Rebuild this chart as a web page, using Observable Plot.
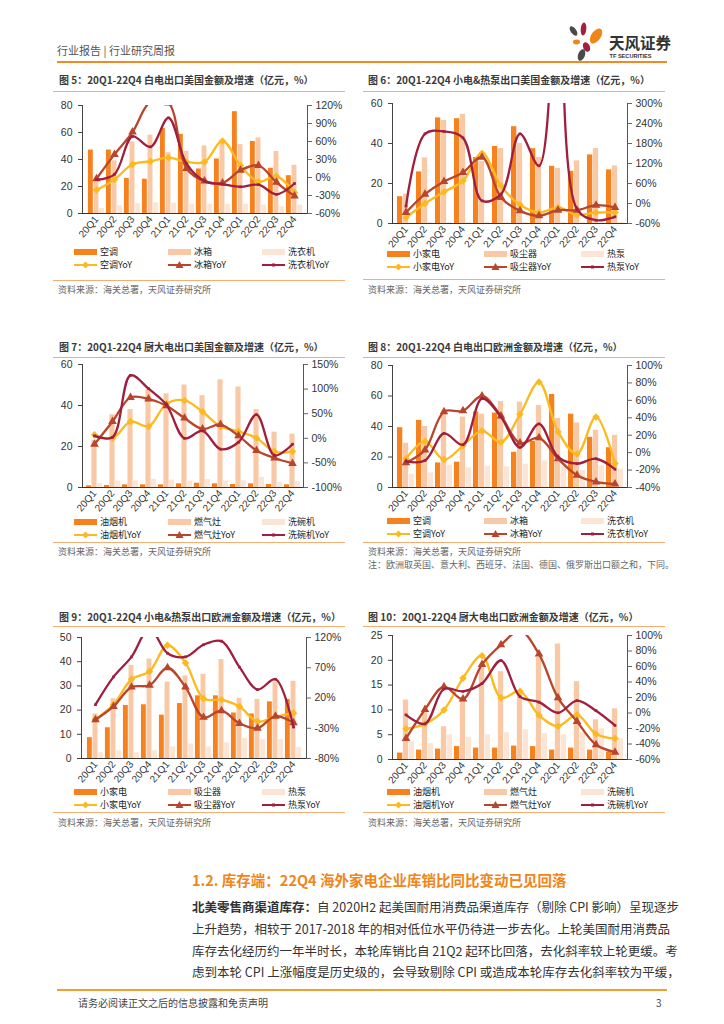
<!DOCTYPE html>
<html><head><meta charset="utf-8">
<script src="https://cdn.jsdelivr.net/npm/d3@7"></script>
<script src="https://cdn.jsdelivr.net/npm/@observablehq/plot@0.6"></script>
<style>
body{margin:0;background:#fff;}
#page{position:relative;width:724px;height:1024px;overflow:hidden;font-family:"Noto Sans CJK SC","Noto Sans",sans-serif;color:#333;}
.abs{position:absolute;white-space:nowrap;}
.title{font-size:10px;font-weight:bold;color:#3a3a3a;line-height:12px;}
.hr{position:absolute;height:1px;background:#F4AE74;}
.src{font-size:9px;color:#666;line-height:11px;}
.leg{font-size:9px;color:#222;line-height:10px;height:10px;display:flex;align-items:center;}
.plotbox{position:absolute;}
.body{position:absolute;left:192px;width:474px;font-size:12.5px;line-height:16px;color:#333;text-align:justify;text-align-last:justify;white-space:nowrap;}
</style></head>
<body><div id="page"></div>
<script>
const quarters = ["20Q1","20Q2","20Q3","20Q4","21Q1","21Q2","21Q3","21Q4","22Q1","22Q2","22Q3","22Q4"];

// Fig 5: white goods exports to US (亿元, %)
const us_white_ac = [47,47,26,25.4,63,58.6,33,40.4,75.4,53.4,33.5,28];
const us_white_fridge = [25,39,53,58,45,46,50,52,51,56,46,35.7];
const us_white_washer = [3.7,5.7,7.4,7.9,7.6,6.9,6.9,6.9,6.9,6.2,4.9,6.2];
const us_white_ac_yoy = [-21,-3.5,22,27,33,26,26,61,20,-7,2,-25];
const us_white_fridge_yoy = [-2,38.5,75.7,126,124,15,-6,-9,12,20,-8,-31];
const us_white_washer_yoy = [-3.5,5.4,68.5,51,99.5,23,-6,-11,-15.6,-12,-28,-10];

// Fig 6: small appliances & heat pumps to US
const us_small_appl = [13.4,25.8,52.8,52.4,33,38.5,48.4,37.4,28.6,26.1,34.3,26.8];
const us_small_vac = [14.7,32.8,51.6,54.6,31,37.5,40,33,27.6,31.3,37.5,28.8];
const us_small_hp = [0.3,0.4,0.5,0.5,0.6,0.6,0.6,0.6,0.5,0.5,0.5,0.5];
const us_small_appl_yoy = [-42,0,35,68,151,53,-4,-27,-12,-34,-27,-27];
const us_small_vac_yoy = [-27,28,66,93,139,18,-22,-37,-20,-20,-5,-12];
const us_small_hp_yoy = [-8,209,216,197,8,28,209,113,700,-17,-50,-40];

// Fig 7: kitchen appliances to US
const us_kitchen_hood = [0.8,1.0,1.3,1.3,1.3,1.8,2.1,1.8,1.5,1.8,1.5,1.3];
const us_kitchen_stove = [23,35.5,38,48,45.7,50,44.8,52.5,49,38,27,26];
const us_kitchen_dish = [2,3.2,3.3,4,3.6,3.2,3.9,3.2,3.2,4.9,2.5,2.8];
const us_kitchen_hood_yoy = [7,0,34,24,70,77,54,24,14,0.5,-27,-27];
const us_kitchen_stove_yoy = [-12,34,83,80,66,41,19,28,5,-25,-40,-51];
const us_kitchen_dish_yoy = [5,2,128,101,68,0,15,-22,-8,48,-35,-12];

// Fig 8: white goods to Europe
const eu_white_ac = [39.2,44,16.1,16.6,49.5,48.8,23.1,30.3,61,48.1,32.9,26.1];
const eu_white_fridge = [29,40,50,46.2,48.1,56.4,56,53.8,45.3,42.3,37.5,34.2];
const eu_white_washer = [8.7,9.6,14.6,12.9,13.9,13.5,15.3,17.4,13.5,11.3,14.2,12];
const eu_white_ac_yoy = [-7,13,-8,8,25,12,44,81,24,-1.5,41,-12.6];
const eu_white_fridge_yoy = [-11.5,3,47,48,65,42,11,17,-7,-26,-33.6,-36];
const eu_white_washer_yoy = [-10,-9,22,9,62,41,6,33,-5,-12.6,-7,-19];

// Fig 9: small appliances & heat pumps to Europe
const eu_small_appl = [8.6,12.7,21.9,22.2,17.9,22.7,25.9,25.9,18.8,18.4,23.4,24.4];
const eu_small_vac = [18.4,24.7,38.5,41.1,31.6,34.1,34.8,40.9,24.9,24.4,31.6,31.9];
const eu_small_hp = [2.4,3.2,2.4,3.2,4.8,6,4.8,6.5,8.3,7.8,7.8,4.6];
const eu_small_appl_yoy = [-15,9,51,64,107,78,19,17,6,-19,-11,-5];
const eu_small_vac_yoy = [-16,6,38,41,70,38,-12,-1,-22,-30,-10,-21];
const eu_small_hp_yoy = [9,55,88,135,94,88,108,114,71,34,51,-28];

// Fig 10: kitchen appliances to Europe
const eu_kitchen_hood = [1.3,1.9,2.1,2.6,2.3,2.3,2.7,2.6,1.9,2.3,1.9,1.5];
const eu_kitchen_stove = [12,9.5,6.6,11.9,18.5,17.7,13.2,20.6,23.3,15.7,8,10.2];
const eu_kitchen_dish = [3.6,3.2,5,4.5,5,5.4,6,5.2,5,5.5,6.2,4.2];
const eu_kitchen_hood_yoy = [-20.4,-14,4,45,74,19.6,28,-3,-17,-2.4,-27,-33];
const eu_kitchen_stove_yoy = [-33,4.5,34,18,62.6,88,106,76,19.6,-11,-41,-50.5];
const eu_kitchen_dish_yoy = [-2.4,-14,31,28,38,67.7,21,14,0.2,16,3,-16];

const names_white = ["空调","冰箱","洗衣机"];
const names_small = ["小家电","吸尘器","热泵"];
const names_kitchen = ["油烟机","燃气灶","洗碗机"];

const C = {bar0:"#F5821F", bar1:"#F9C8A5", bar2:"#FDE5D5", yel:"#FCBA1E", red:"#B8452C", pur:"#A01F3E"};
const diamond = {draw(ctx, size){const s=Math.sqrt(size/2); ctx.moveTo(0,-s); ctx.lineTo(s,0); ctx.lineTo(0,s); ctx.lineTo(-s,0); ctx.closePath();}};

const page = document.getElementById("page");
function el(tag, cls, style, html){const e=document.createElement(tag); if(cls) e.className=cls; if(style) e.style.cssText=style; if(html!==undefined) e.innerHTML=html; page.appendChild(e); return e;}

const SRC = "资料来源：海关总署，天风证券研究所";
const charts = [
 {X:55, L:82, R:307, T:105, B:213, titleY:80, sepY:91, legY:253, botY:280, srcY:289,
  title:"图 5：20Q1-22Q4 白电出口美国金额及增速（亿元，%）", lDomain:[0,80], lStep:20, rDomain:[-60,120], rStep:30,
  bars:[us_white_ac,us_white_fridge,us_white_washer], lines:[us_white_ac_yoy,us_white_fridge_yoy,us_white_washer_yoy], names:names_white},
 {X:365, L:392, R:627, T:103, B:223, titleY:80, sepY:91, legY:255, botY:279, srcY:289,
  title:"图 6：20Q1-22Q4 小电&热泵出口美国金额及增速（亿元，%）", lDomain:[0,60], lStep:20, rDomain:[-60,300], rStep:60,
  bars:[us_small_appl,us_small_vac,us_small_hp], lines:[us_small_appl_yoy,us_small_vac_yoy,us_small_hp_yoy], names:names_small},
 {X:55, L:82, R:303, T:364, B:487, titleY:347, sepY:357, legY:523, botY:542, srcY:551,
  title:"图 7：20Q1-22Q4 厨大电出口美国金额及增速（亿元，%）", lDomain:[0,60], lStep:20, rDomain:[-100,150], rStep:50,
  bars:[us_kitchen_hood,us_kitchen_stove,us_kitchen_dish], lines:[us_kitchen_hood_yoy,us_kitchen_stove_yoy,us_kitchen_dish_yoy], names:names_kitchen},
 {X:365, L:392, R:627, T:365, B:487, titleY:347, sepY:357, legY:522, botY:542, srcY:551,
  note:"注：欧洲取英国、意大利、西班牙、法国、德国、俄罗斯出口额之和，下同。",
  title:"图 8：20Q1-22Q4 白电出口欧洲金额及增速（亿元，%）", lDomain:[0,80], lStep:20, rDomain:[-40,100], rStep:20,
  bars:[eu_white_ac,eu_white_fridge,eu_white_washer], lines:[eu_white_ac_yoy,eu_white_fridge_yoy,eu_white_washer_yoy], names:names_white},
 {X:55, L:81, R:306, T:637, B:758, titleY:617, sepY:626, legY:793, botY:812, srcY:822,
  title:"图 9：20Q1-22Q4 小电&热泵出口欧洲金额及增速（亿元，%）", lDomain:[0,50], lStep:10, rDomain:[-80,120], rStep:50,
  bars:[eu_small_appl,eu_small_vac,eu_small_hp], lines:[eu_small_appl_yoy,eu_small_vac_yoy,eu_small_hp_yoy], names:names_small},
 {X:365, L:392, R:627, T:635, B:759, titleY:617, sepY:626, legY:793, botY:812, srcY:822,
  title:"图 10：20Q1-22Q4 厨大电出口欧洲金额及增速（亿元，%）", lDomain:[0,25], lStep:5, rDomain:[-60,100], rStep:20,
  bars:[eu_kitchen_hood,eu_kitchen_stove,eu_kitchen_dish], lines:[eu_kitchen_hood_yoy,eu_kitchen_stove_yoy,eu_kitchen_dish_yoy], names:names_kitchen}
];

function swatch(kind, i){
  const colors=[C.bar0,C.bar1,C.bar2], lc=[C.yel,C.red,C.pur];
  if(kind==="bar") return `<svg width="23" height="8" style="margin-right:3px;flex:none"><rect x="0" y="1" width="23" height="6" fill="${colors[i]}"/></svg>`;
  let m;
  if(i===0) m=`<path d="M11.5,0.5 L15,4 L11.5,7.5 L8,4Z" fill="${lc[0]}"/>`;
  else if(i===1) m=`<path d="M11.5,0 L15.5,7 L7.5,7Z" fill="${lc[1]}"/>`;
  else m=`<rect x="10" y="2.5" width="3" height="3" fill="${lc[2]}"/>`;
  return `<svg width="23" height="8" style="margin-right:3px;flex:none"><line x1="0" x2="23" y1="4" y2="4" stroke="${lc[i]}" stroke-width="2"/>${m}</svg>`;
}

charts.forEach(c=>{
  const left = c.X < 200;
  const tx = left ? 59 : 368, sx1 = left ? 53 : 363, sx2 = left ? 345 : 665;
  el("div","abs title",`left:${tx}px;top:${c.titleY-6}px;`, c.title);
  el("div","hr",`left:${sx1}px;width:${sx2-sx1}px;top:${c.sepY}px;`);
  el("div","hr",`left:${sx1}px;width:${sx2-sx1}px;top:${c.botY}px;`);
  el("div","abs src",`left:${left?58:368}px;top:${c.srcY-5.5}px;`, SRC);
  if(c.note) el("div","abs src",`left:368px;top:${c.srcY+13-5.5}px;`, c.note);
  const cols = left ? [74,168,262] : [387,484,581];
  c.names.forEach((n,i)=>{
    el("div","abs leg",`left:${cols[i]}px;top:${c.legY-1-5}px;`, swatch("bar",i)+n);
    el("div","abs leg",`left:${cols[i]}px;top:${c.legY+12-5}px;`, swatch("line",i)+n+"YoY");
  });

  const W = 300, svgY = c.T - 12, svgH = (c.B - svgY) + 34;
  const ml = c.L - c.X, mr = c.X + W - c.R, mt = c.T - svgY, mb = svgY + svgH - c.B;
  const bw = (c.R - c.L) / quarters.length;
  const y2 = d3.scaleLinear().domain(c.rDomain).range(c.lDomain);
  const rows = quarters.map((q,i)=>({q, b0:c.bars[0][i], b1:c.bars[1][i], b2:c.bars[2][i],
    l0:y2(c.lines[0][i]), l1:y2(c.lines[1][i]), l2:y2(c.lines[2][i])}));
  const lTicks = d3.range(c.lDomain[0], c.lDomain[1]+1e-9, c.lStep);
  const rTicks = d3.range(c.rDomain[0], c.rDomain[1]+1e-9, c.rStep);
  const svg = Plot.plot({
    width: W, height: svgH, marginLeft: ml, marginRight: mr, marginTop: mt, marginBottom: mb,
    style: {fontFamily:'"Liberation Sans", Arial, sans-serif', fontSize:"10.5px", color:"#333", background:"transparent", overflow:"visible"},
    x: {type:"band", domain: quarters, padding: 0},
    y: {domain: c.lDomain},
    marks: [
      Plot.barY(rows, {x:"q", y:"b0", fill:C.bar0, insetLeft:bw*0.05, insetRight:bw*0.65}),
      Plot.barY(rows, {x:"q", y:"b1", fill:C.bar1, insetLeft:bw*0.35, insetRight:bw*0.35}),
      Plot.barY(rows, {x:"q", y:"b2", fill:C.bar2, insetLeft:bw*0.65, insetRight:bw*0.05}),
      Plot.axisX({tickRotate:-50, tickSize:0, tickPadding:4, fontSize:10, label:null}),
      Plot.axisY(lTicks, {anchor:"left", tickSize:4, tickPadding:6, label:null, stroke:"#444"}),
      Plot.axisY(rTicks.map(y2), {anchor:"right", tickSize:4, tickPadding:4, label:null, stroke:"#666", tickFormat: v => Math.round(y2.invert(v)) + "%"}),
      Plot.frame({anchor:"left", stroke:"#444"}),
      Plot.frame({anchor:"right", stroke:"#555"}),
      Plot.ruleY([c.lDomain[0]], {stroke:"#333"}),
      Plot.line(rows, {x:"q", y:"l0", stroke:C.yel, strokeWidth:2.3, curve:"catmull-rom", clip:true}),
      Plot.dot(rows, {x:"q", y:"l0", symbol:diamond, r:3, fill:C.yel, stroke:"none", clip:true}),
      Plot.line(rows, {x:"q", y:"l1", stroke:C.red, strokeWidth:2.3, curve:"catmull-rom", clip:true}),
      Plot.dot(rows, {x:"q", y:"l1", symbol:"triangle", r:3.2, fill:C.red, stroke:"none", clip:true}),
      Plot.line(rows, {x:"q", y:"l2", stroke:C.pur, strokeWidth:2.3, curve:"catmull-rom", clip:true}),
      Plot.dot(rows, {x:"q", y:"l2", symbol:"square", r:1.5, fill:C.pur, stroke:"none", clip:true})
    ]
  });
  const box = el("div","plotbox",`left:${c.X}px;top:${svgY}px;width:${W}px;height:${svgH}px;`);
  box.appendChild(svg);
});

// header
el("div","abs",`left:57px;top:43px;font-size:11px;color:#555;line-height:14px;`, "行业报告 | 行业研究周报");
el("div","abs",`left:57px;top:61px;width:610px;height:2px;background:#F08A24;`);
el("div","abs",`left:565px;top:18px;`, `<svg width="110" height="46" viewBox="565 18 110 46">
 <ellipse cx="573.5" cy="31" rx="2.8" ry="5.5" transform="rotate(-35 573.5 31)" fill="#4a4a4a"/>
 <ellipse cx="583.5" cy="29" rx="2.8" ry="6.5" transform="rotate(5 583.5 29)" fill="#A3203F"/>
 <ellipse cx="596" cy="36" rx="4.8" ry="8.5" transform="rotate(35 596 36)" fill="#F08519"/>
 <ellipse cx="576.5" cy="42" rx="3.5" ry="2.4" fill="#F08519"/>
 <ellipse cx="586.5" cy="47" rx="3.3" ry="5" transform="rotate(-25 586.5 47)" fill="#A3203F"/>
 <ellipse cx="581.5" cy="55" rx="3.4" ry="6" transform="rotate(20 581.5 55)" fill="#4a4a4a"/>
 <text x="609" y="48.5" font-size="15.5" font-weight="bold" fill="#333" font-family="Noto Sans CJK SC">天风证券</text>
 <text x="609.5" y="58" font-size="5.6" font-weight="bold" fill="#333" font-family="Liberation Sans">TF SECURITIES</text>
</svg>`);

// section text
el("div","abs",`left:192px;top:871px;font-size:14.5px;font-weight:bold;color:#F08519;line-height:18px;`, "1.2. 库存端：22Q4 海外家电企业库销比同比变动已见回落");
const bodyLines = [
 "<b>北美零售商渠道库存：</b>自 2020H2 起美国耐用消费品渠道库存（剔除 CPI 影响）呈现逐步",
 "上升趋势，相较于 2017-2018 年的相对低位水平仍待进一步去化。上轮美国耐用消费品",
 "库存去化经历约一年半时长，本轮库销比自 21Q2 起环比回落，去化斜率较上轮更缓。考",
 "虑到本轮 CPI 上涨幅度是历史级的，会导致剔除 CPI 或造成本轮库存去化斜率较为平缓，"
];
[907,929,951,972].forEach((y,i)=> el("div","body",`top:${y-8}px;`, bodyLines[i]));

// footer
el("div","abs",`left:57px;top:989px;width:610px;height:2px;background:#F0A030;`);
el("div","abs",`left:78px;top:996px;font-size:10px;color:#444;line-height:13px;`, "请务必阅读正文之后的信息披露和免责声明");
el("div","abs",`left:656px;top:996px;font-size:10px;color:#444;line-height:13px;`, "3");
</script>
</body></html>
